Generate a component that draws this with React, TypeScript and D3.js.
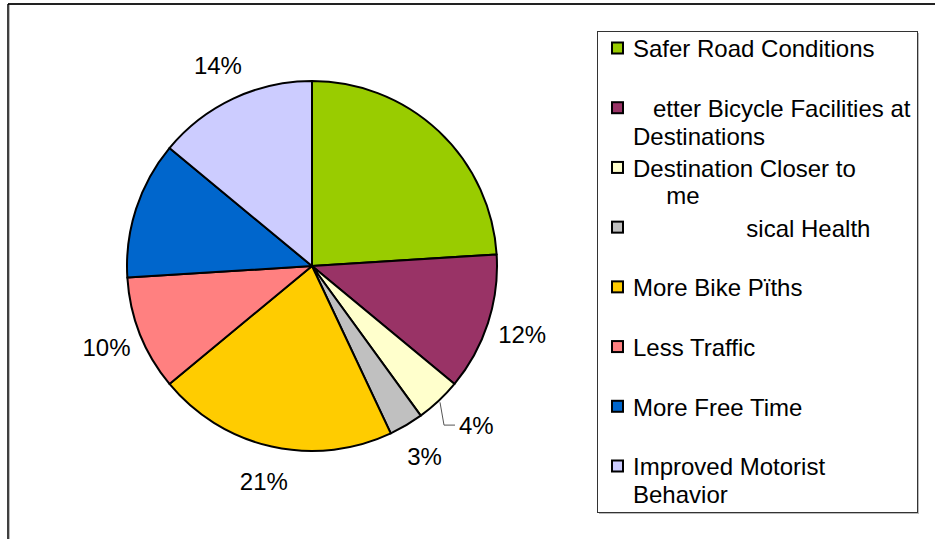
import React from "react";
import * as d3 from "d3";

const categories = [
  "Safer Road Conditions",
  "Better Bicycle Facilities at Destinations",
  "Destination Closer to Home",
  "Physical Health",
  "More Bike Paths",
  "Less Traffic",
  "More Free Time",
  "Improved Motorist Behavior",
];
const values = [24, 12, 4, 3, 21, 10, 12, 14];
const pctLabels = ["", "12%", "4%", "3%", "21%", "10%", "", "14%"];
// legend text as it appears in the picture (lines)
const legendLines: string[][] = [
  ["Safer Road Conditions"],
  ["\u00a0\u00a0 etter Bicycle Facilities at", "Destinations"],
  ["Destination Closer to", "\u00a0\u00a0\u00a0\u00a0\u00a0me"],
  ["\u00a0\u00a0\u00a0\u00a0\u00a0\u00a0\u00a0\u00a0\u00a0\u00a0\u00a0\u00a0\u00a0\u00a0\u00a0\u00a0 sical Health"],
  ["More Bike P\u00efths"],
  ["Less Traffic"],
  ["More Free Time"],
  ["Improved Motorist", "Behavior"],
];
const colors = ["#99CC00", "#993366", "#FFFFCC", "#C0C0C0", "#FFCC00", "#FF8080", "#0066CC", "#CCCCFF"];

const W = 935;
const H = 539;
const FONT = "Liberation Sans, Arial, sans-serif";

export default function App() {
  const cx = 312;
  const cy = 266;
  const r = 185;
  const labelR = 221;

  const pie = d3.pie<number>().sort(null).value((d) => d)(values);
  const arc = d3.arc<d3.PieArcDatum<number>>().innerRadius(0).outerRadius(r);
  const labelArc = d3.arc<d3.PieArcDatum<number>>().innerRadius(labelR).outerRadius(labelR);
  const edgeArc = d3.arc<d3.PieArcDatum<number>>().innerRadius(r + 2).outerRadius(r + 2);

  const legX = 597.5;
  const legY = 31.5;
  const legW = 320;
  const legH = 481;
  const rowY = d3.scaleLinear().domain([0, categories.length - 1]).range([49, 467]);
  const lineH = 27.5;

  return (
    <div style={{ position: "absolute", left: 0, top: 0, width: W, height: H }}>
      <svg width={W} height={H} style={{ display: "block", background: "#fff" }}>
        {/* outer frame */}
        <line x1={8} y1={4} x2={W} y2={4} stroke="#222" strokeWidth={2} />
        <line x1={8} y1={4} x2={8} y2={H} stroke="#000" strokeWidth={1.5} />
        <line x1={9.5} y1={5} x2={9.5} y2={H} stroke="#bbb" strokeWidth={1} />

        <g transform={`translate(${cx},${cy})`}>
          {pie.map((d, i) => (
            <path key={i} d={arc(d) || ""} fill={colors[i]} stroke="#000" strokeWidth={2} strokeLinejoin="round" />
          ))}
          {pie.map((d, i) => {
            if (!pctLabels[i]) return null;
            const [lx, ly] = labelArc.centroid(d);
            if (values[i] < 4 || pctLabels[i] !== "4%") {
              return (
                <text key={i} x={lx} y={ly} dy="0.35em" textAnchor="middle" fontFamily={FONT} fontSize={24} fill="#000">
                  {pctLabels[i]}
                </text>
              );
            }
            const [ex, ey] = edgeArc.centroid(d);
            const elbowX = ex + 4;
            const endX = ex + 15;
            const ty = ly - 2;
            return (
              <g key={i}>
                <polyline points={`${ex},${ey} ${elbowX},${ty} ${endX},${ty}`} fill="none" stroke="#555" strokeWidth={1} />
                <text x={endX + 4} y={ty} dy="0.35em" textAnchor="start" fontFamily={FONT} fontSize={24} fill="#000">
                  {pctLabels[i]}
                </text>
              </g>
            );
          })}
        </g>

        {/* legend */}
        <rect x={legX + 1.5} y={legY + 1.5} width={legW} height={legH} fill="#bbb" />
        <rect x={legX} y={legY} width={legW} height={legH} fill="#fff" stroke="#333" strokeWidth={1} />
        {categories.map((c, i) => {
          const y0 = rowY(i);
          return (
            <g key={c}>
              <rect x={612} y={y0 - 6.5} width={11} height={11} fill={colors[i]} stroke="#000" strokeWidth={2} />
              {legendLines[i].map((ln, j) => (
                <text
                  key={j}
                  x={633}
                  y={y0 + j * lineH}
                  dy="0.35em"
                  fontFamily={FONT}
                  fontSize={24}
                  fill="#000"
                  style={{ whiteSpace: "pre" }}
                >
                  {ln}
                </text>
              ))}
            </g>
          );
        })}
      </svg>
    </div>
  );
}
